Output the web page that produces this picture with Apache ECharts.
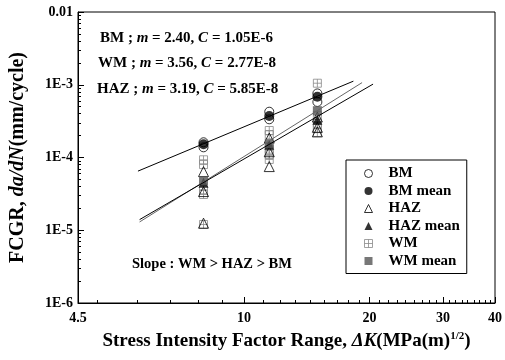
<!DOCTYPE html>
<html>
<head>
<meta charset="utf-8">
<script src="https://cdn.jsdelivr.net/npm/echarts@6/dist/echarts.min.js"></script>
<style>
  html, body { margin: 0; padding: 0; background: #fff; }
  #chart { width: 505px; height: 360px; }
</style>
</head>
<body>
<div id="chart"></div>
<script>
// stress intensity factor range, one column of tests per value
const deltaK = [8, 11.5, 15]
// da/dN per column (mm/cycle)
const bmData = [[1.62e-4, 1.38e-4], [4.26e-4, 3.35e-4], [7.6e-4, 5.8e-4]]
const bmMean = [1.52e-4, 3.72e-4, 6.85e-4]
const hazData = [[6.4e-5, 3.4e-5, 1.25e-5], [1.85e-4, 1.2e-4, 7.5e-5], [3.6e-4, 2.6e-4, 2.25e-4]]
const hazMean = [4.5e-5, 1.5e-4, 3.3e-4]
const wmData = [[9.3e-5, 8.0e-5, 3.6e-5, 3.1e-5, 1.2e-5], [2.35e-4, 2.05e-4, 1.3e-4, 1.1e-4, 9.4e-5], [1.05e-3, 3.8e-4, 2.95e-4, 2.5e-4, 2.2e-4]]
const wmMean = [4.8e-5, 1.55e-4, 4.4e-4]

// Paris law fit lines, end points
const bmFitK = [5.57, 18.3]
const bmFitRate = [6.5e-5, 1.12e-3]
const wmFitK = [5.62, 19.2]
const wmFitRate = [1.3e-5, 1.07e-3]
const hazFitK = [5.62, 20.4]
const hazFitRate = [1.4e-5, 1.02e-3]

const fitNames = ['BM', 'WM', 'HAZ']
const fitM = ['2.40', '3.56', '3.19']
const fitC = ['1.05E-6', '2.77E-8', '5.85E-8']

const legendNames = ['BM', 'BM mean', 'HAZ', 'HAZ mean', 'WM', 'WM mean']

// axis ticks
const xTickValues = [4, 10, 20, 30, 40]
const xTickLabels = ['4.5', '10', '20', '30', '40']
const xMinorTicks = [4.44, 5.56, 6.67, 7.78, 8.89, 11.1, 12.2, 13.3, 14.4, 15.6, 16.7, 17.8, 18.9,
  21.1, 22.2, 23.3, 24.4, 25.6, 26.7, 27.8, 28.9, 31.1, 32.2, 33.3, 34.4, 35.6, 36.7, 37.8, 38.9]
const yTickValues = [1e-6, 1e-5, 1e-4, 1e-3, 1e-2]
const yTickLabels = ['1E-6', '1E-5', '1E-4', '1E-3', '0.01']
const yMinorMantissa = [2, 3, 4, 5, 6, 7, 8, 9]

const FONT = "'Liberation Serif', 'Times New Roman', serif"
const WM_BOX = 'path://M0,0L10,0L10,10L0,10Z M5,0L5,10 M0,5L10,5'

function spread (vals) {
  const out = []
  vals.forEach((col, i) => col.forEach(v => out.push([deltaK[i], v])))
  return out
}
function pairs (xs, ys) {
  return xs.map((x, i) => [x, ys[i]])
}
const yMinorTicks = []
yTickValues.slice(0, 4).forEach(d => yMinorMantissa.forEach(m => yMinorTicks.push(m * d)))

function xLabel (v) {
  const i = xTickValues.findIndex(t => Math.abs(t - v) < 1e-6)
  return i >= 0 ? xTickLabels[i] : ''
}
function yLabel (v) {
  const i = yTickValues.findIndex(t => Math.abs(Math.log10(t) - Math.log10(v)) < 1e-6)
  return i >= 0 ? yTickLabels[i] : ''
}

const boldText = { fontFamily: FONT, fontWeight: 'bold', color: '#000' }
const italicText = { fontFamily: FONT, fontWeight: 'bold', fontStyle: 'italic', color: '#000' }

const chart = echarts.init(document.getElementById('chart'), null, { renderer: 'canvas' })

const fitTexts = fitNames.map((n, i) => ({
  type: 'text',
  x: [100, 98, 97][i],
  y: [38, 63.5, 89][i],
  style: {
    text: '{b|' + n + ' ; }{i|m}{b| = ' + fitM[i] + ', }{i|C}{b| = ' + fitC[i] + '}',
    verticalAlign: 'middle',
    rich: {
      b: Object.assign({ fontSize: 15 }, boldText),
      i: Object.assign({ fontSize: 15 }, italicText)
    }
  }
}))

chart.setOption({
  backgroundColor: '#fff',
  animation: false,
  grid: {
    left: 74,
    right: 6,
    top: 12,
    bottom: 57,
    show: true,
    borderColor: '#000',
    borderWidth: 1
  },
  legend: {
    data: legendNames,
    orient: 'vertical',
    left: 346,
    top: 160,
    padding: [6, 7, 5, 18],
    itemWidth: 8,
    itemHeight: 8,
    itemGap: 2.5,
    borderColor: '#000',
    borderWidth: 1,
    backgroundColor: '#fff',
    itemStyle: { borderWidth: 1 },
    textStyle: Object.assign({ fontSize: 15, padding: [0, 0, 0, 11] }, boldText)
  },
  xAxis: [{
    type: 'log',
    logBase: 10,
    min: 4,
    max: 40,
    name: '{b|Stress Intensity Factor Range, }{i|ΔK}{b|(MPa(m)}{s|1/2}{b|)}',
    nameLocation: 'middle',
    nameGap: 28,
    nameTextStyle: {
      rich: {
        b: Object.assign({ fontSize: 19, lineHeight: 20 }, boldText),
        i: Object.assign({ fontSize: 19, lineHeight: 20 }, italicText),
        s: Object.assign({ fontSize: 11, lineHeight: 11, verticalAlign: 'top' }, boldText)
      }
    },
    axisLine: { lineStyle: { color: '#000', width: 1 } },
    axisTick: { inside: true, length: 6, customValues: xTickValues, lineStyle: { color: '#000' } },
    axisLabel: Object.assign({ customValues: xTickValues, formatter: xLabel, margin: 8, fontSize: 14 }, boldText),
    splitLine: { show: false }
  }, {
    type: 'log',
    logBase: 10,
    min: 4,
    max: 40,
    position: 'bottom',
    axisLine: { show: false },
    axisTick: { inside: true, length: 3, customValues: xMinorTicks, lineStyle: { color: '#000' } },
    axisLabel: { show: false },
    splitLine: { show: false }
  }],
  yAxis: [{
    type: 'log',
    logBase: 10,
    min: 1e-6,
    max: 1e-2,
    name: '{b|FCGR, }{i|da/dN}{b|(mm/cycle)}',
    nameLocation: 'middle',
    nameRotate: 90,
    nameGap: 50,
    nameTextStyle: {
      rich: {
        b: Object.assign({ fontSize: 20 }, boldText),
        i: Object.assign({ fontSize: 20 }, italicText)
      }
    },
    axisLine: { lineStyle: { color: '#000', width: 1 } },
    axisTick: { inside: true, length: 6, customValues: yTickValues, lineStyle: { color: '#000' } },
    axisLabel: Object.assign({ customValues: yTickValues, formatter: yLabel, margin: 5, fontSize: 14 }, boldText),
    splitLine: { show: false }
  }, {
    type: 'log',
    logBase: 10,
    min: 1e-6,
    max: 1e-2,
    position: 'left',
    axisLine: { show: false },
    axisTick: { inside: true, length: 3, customValues: yMinorTicks, lineStyle: { color: '#000' } },
    axisLabel: { show: false },
    splitLine: { show: false }
  }],
  graphic: fitTexts.concat([{
    type: 'text',
    x: 132,
    y: 264,
    style: {
      text: 'Slope : WM > HAZ > BM',
      verticalAlign: 'middle',
      font: 'bold 14.5px ' + FONT,
      fill: '#000'
    }
  }]),
  series: [
    { name: 'BM fit', type: 'line', symbol: 'none', silent: true, data: pairs(bmFitK, bmFitRate), lineStyle: { color: '#000', width: 1 } },
    { name: 'WM fit', type: 'line', symbol: 'none', silent: true, data: pairs(wmFitK, wmFitRate), lineStyle: { color: '#666', width: 1 } },
    { name: 'HAZ fit', type: 'line', symbol: 'none', silent: true, data: pairs(hazFitK, hazFitRate), lineStyle: { color: '#000', width: 1 } },
    {
      name: 'WM', type: 'scatter', symbol: WM_BOX, symbolSize: 8, data: spread(wmData),
      itemStyle: { color: 'rgba(255,255,255,0)', borderColor: '#8a8a8a', borderWidth: 1 }
    },
    {
      name: 'HAZ', type: 'scatter', symbol: 'triangle', symbolSize: 10, data: spread(hazData),
      itemStyle: { color: 'rgba(255,255,255,0)', borderColor: '#000', borderWidth: 1 }
    },
    {
      name: 'BM', type: 'scatter', symbol: 'circle', symbolSize: 9, data: spread(bmData),
      itemStyle: { color: 'rgba(255,255,255,0)', borderColor: '#000', borderWidth: 1 }
    },
    {
      name: 'HAZ mean', type: 'scatter', symbol: 'triangle', symbolSize: 10, data: pairs(deltaK, hazMean),
      itemStyle: { color: '#000' }
    },
    {
      name: 'WM mean', type: 'scatter', symbol: 'rect', symbolSize: 9, data: pairs(deltaK, wmMean),
      itemStyle: { color: '#555' }
    },
    {
      name: 'BM mean', type: 'scatter', symbol: 'circle', symbolSize: 10, data: pairs(deltaK, bmMean),
      itemStyle: { color: '#000' }
    }
  ]
})
</script>
</body>
</html>
